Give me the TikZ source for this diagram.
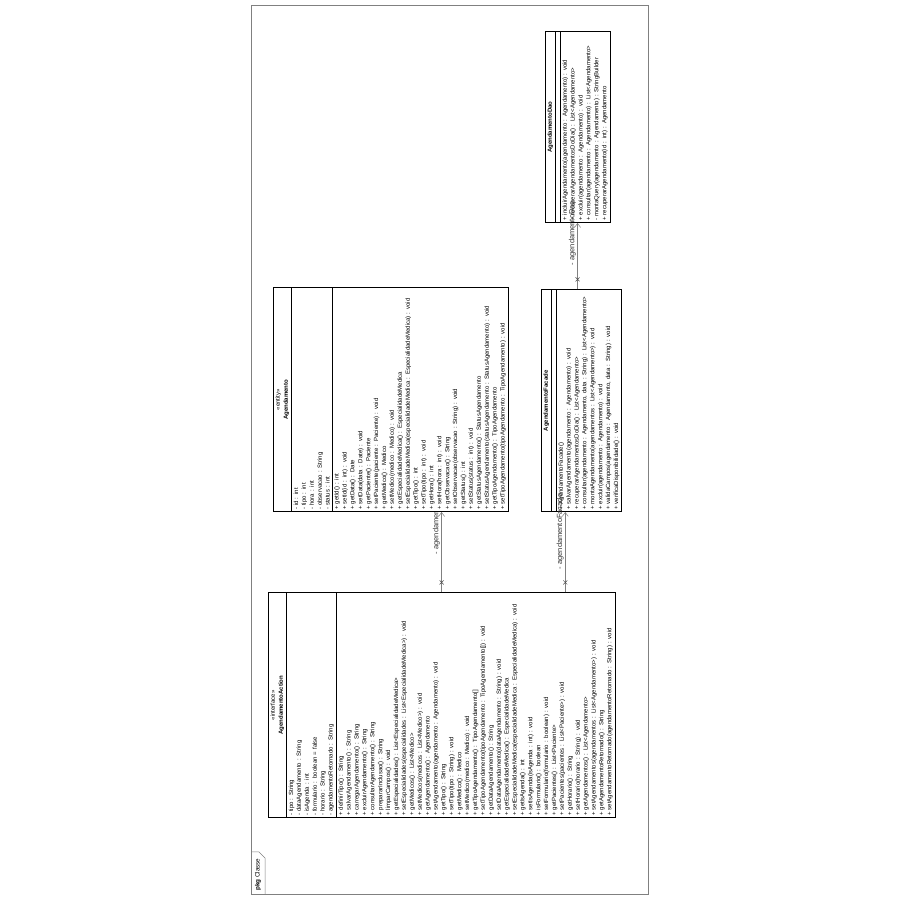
\documentclass[tikz,border=0pt]{standalone}
\usepackage{fontspec}
\setmainfont{Liberation Sans}
\usetikzlibrary{arrows.meta,positioning,shapes.multipart,shapes.misc,backgrounds,calc}

\newcommand{\classname}[1]{\hfill#1\hfill\null}

\begin{document}
\begin{tikzpicture}[
x=1pt, y=1pt,
umlclass/.style={draw=black, line width=0.6pt, fill=white, rectangle split, rectangle split parts=3,
  text width=#1, align=left, inner xsep=2pt, inner ysep=2pt, anchor=north west,
  font=\fontsize{6}{7.9}\selectfont, text=black},
assoc/.style={draw=black!50, line width=0.5pt, -{Straight Barb[length=4pt, width=6pt]}},
nonav/.style={draw=black!70, cross out, line width=0.5pt, minimum size=3.5pt, inner sep=0pt},
rolelabel/.style={font=\fontsize{7.5}{8}\selectfont, text=black!80, inner sep=0pt, anchor=south west, yshift=1.5pt},
pkgframe/.style={draw=black!50, line width=0.5pt}
]
\useasboundingbox (0,0) rectangle (900,900);
\begin{scope}[shift={(900,0)}, rotate=90, transform shape]
% package frame
\draw[pkgframe] (6,252) rectangle (895,649);
\draw[pkgframe] (6,635) -- (42,635) -- (48,641) -- (48,649);
\node[font=\fontsize{6.3}{7}\selectfont, anchor=west, inner sep=0pt] (pkg) at (9,642) {\textbf{pkg} Classe};

% classes
\node[umlclass=221pt] (act) at (82,632) {\classname{«interface»}\\\classname{\textbf{AgendamentoAction}}
\nodepart{two}- tipo : String\\
- dataAgendamento : String\\
- isAgenda : int\\
- formulario : boolean = false\\
- horario : String\\
- agendamentoRetornado : String
\nodepart{three}+ definirTipo() : String\\
+ salvarAgendamento() : String\\
+ carregarAgendamento() : String\\
+ excluirAgendamento() : String\\
+ consultarAgendamento() : String\\
+ prepararInclusao() : String\\
+ limparCampos() : void\\
+ getEspecialidades() : List<EspecialidadeMedica>\\
+ setEspecialidades(especialidades : List<EspecialidadeMedica>) : void\\
+ getMedicos() : List<Medico>\\
+ setMedicos(medicos : List<Medico>) : void\\
+ getAgendamento() : Agendamento\\
+ setAgendamento(agendamento : Agendamento) : void\\
+ getTipo() : String\\
+ setTipo(tipo : String) : void\\
+ getMedico() : Medico\\
+ setMedico(medico : Medico) : void\\
+ getTipoAgendamento() : TipoAgendamento[]\\
+ setTipoAgendamento(tipoAgendamento : TipoAgendamento[]) : void\\
+ getDataAgendamento() : String\\
+ setDataAgendamento(dataAgendamento : String) : void\\
+ getEspecialidadeMedica() : EspecialidadeMedica\\
+ setEspecialidadeMedica(especialidadeMedica : EspecialidadeMedica) : void\\
+ getIsAgenda() : int\\
+ setIsAgenda(isAgenda : int) : void\\
+ isFormulario() : boolean\\
+ setFormulario(formulario : boolean) : void\\
+ getPacientes() : List<Paciente>\\
+ setPacientes(pacientes : List<Paciente>) : void\\
+ getHorario() : String\\
+ setHorario(horario : String) : void\\
+ getAgendamentos() : List<Agendamento>\\
+ setAgendamentos(agendamentos : List<Agendamento>) : void\\
+ getAgendamentoRetornado() : String\\
+ setAgendamentoRetornado(agendamentoRetornado : String) : void};

\node[umlclass=220pt] (agd) at (388,627) {\classname{«entity»}\\\classname{\textbf{Agendamento}}
\nodepart{two}- id : int\\
- tipo : int\\
- hora : int\\
- observacao : String\\
- status : int
\nodepart{three}+ getId() : int\\
+ setId(id : int) : void\\
+ getData() : Date\\
+ setData(data : Date) : void\\
+ getPaciente() : Paciente\\
+ setPaciente(paciente : Paciente) : void\\
+ getMedico() : Medico\\
+ setMedico(medico : Medico) : void\\
+ getEspecialidadeMedica() : EspecialidadeMedica\\
+ setEspecialidadeMedica(especialidadeMedica : EspecialidadeMedica) : void\\
+ getTipo() : int\\
+ setTipo(tipo : int) : void\\
+ getHora() : int\\
+ setHora(hora : int) : void\\
+ getObservacao() : String\\
+ setObservacao(observacao : String) : void\\
+ getStatus() : int\\
+ setStatus(status : int) : void\\
+ getStatusAgendamento() : StatusAgendamento\\
+ setStatusAgendamento(statusAgendamento : StatusAgendamento) : void\\
+ getTipoAgendamento() : TipoAgendamento\\
+ setTipoAgendamento(tipoAgendamento : TipoAgendamento) : void};

\node[umlclass=218pt] (fac) at (388,359) {\classname{\textbf{AgendamentoFacade}}
\nodepart{two}
\nodepart{three}+ AgendamentoFacade()\\
+ salvarAgendamento(agendamento : Agendamento) : void\\
+ recuperarAgendamentosDoDia() : List<Agendamento>\\
+ consultar(agendamento : Agendamento, data : String) : List<Agendamento>\\
+ montaAgendamento(agendamentos : List<Agendamento>) : void\\
+ excluir(agendamento : Agendamento) : void\\
+ validaCampos(agendamento : Agendamento, data : String) : void\\
+ verificaDisponibilidade() : void};

\node[umlclass=187pt] (dao) at (677,355) {\classname{\textbf{AgendamentoDao}}
\nodepart{two}
\nodepart{three}+ incluirAgendamento(agendamento : Agendamento) : void\\
+ recuperarAgendamentosDoDia() : List<Agendamento>\\
+ excluir(agendamento : Agendamento) : void\\
+ consultar(agendamento : Agendamento) : List<Agendamento>\\
- montaQuery(agendamento : Agendamento) : StringBuilder\\
+ recuperarAgendamento(id : int) : Agendamento};

% associations
\coordinate (agdin) at ($(agd.south west)!(act.east)!(agd.north west)$);
\coordinate (facin) at ($(fac.north west)!0.3!(fac.south west)$);
\coordinate (facout) at ($(act.south east)!(facin)!(act.north east)$);
\coordinate (daoout) at ($(fac.south east)!(dao.west)!(fac.north east)$);

\draw[assoc] (act.east) -- (agdin);
\node[nonav] (x1) at ($(act.east)!10pt!(agdin)$) {};
\begin{scope}[on background layer]
\node[rolelabel] (r1) at ($(act.east)!38pt!(agdin)$) {- agendamento};
\end{scope}

\draw[assoc] (facout) -- (facin);
\node[nonav] (x2) at ($(facout)!10pt!(facin)$) {};
\node[rolelabel] (r2) at ($(facout)!23pt!(facin)$) {- agendamentoFacade};

\draw[assoc] (daoout) -- (dao.west);
\node[nonav] (x3) at ($(daoout)!10pt!(dao.west)$) {};
\node[rolelabel] (r3) at ($(daoout)!24pt!(dao.west)$) {- agendamentoDao};
\end{scope}
\end{tikzpicture}
\end{document}
